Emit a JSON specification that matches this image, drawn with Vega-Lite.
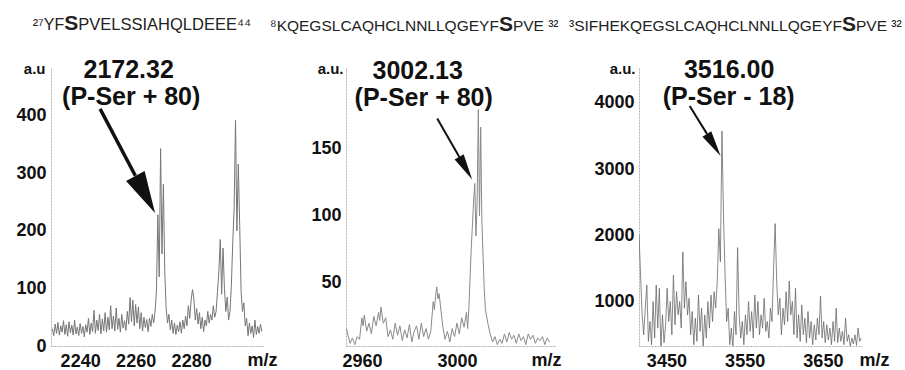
{
  "$schema": "https://vega.github.io/schema/vega-lite/v6.json",
  "background": "white",
  "padding": {"left": 15, "top": 13, "right": 0, "bottom": 0},
  "config": {
    "view": {"stroke": null},
    "font": "Liberation Sans",
    "axis": {
      "domainColor": "#b0b0b0",
      "domainDash": [2, 1],
      "ticks": false,
      "tickSize": 0,
      "grid": false,
      "format": "d",
      "labelFont": "Liberation Sans",
      "labelFontSize": 18,
      "labelFontWeight": "bold",
      "labelColor": "#111",
      "labelFlush": false,
      "titleFont": "Liberation Sans",
      "titleFontWeight": "bold",
      "titleColor": "#111"
    }
  },
  "datasets": {
    "p1": [
      {"mz":2230,"i":30},{"mz":2230.5,"i":18},{"mz":2231,"i":38},{"mz":2231.5,"i":22},{"mz":2232,"i":41},{"mz":2232.5,"i":19},{"mz":2233,"i":35},{"mz":2233.5,"i":24},{"mz":2234,"i":44},{"mz":2234.5,"i":20},
      {"mz":2235,"i":37},{"mz":2235.5,"i":17},{"mz":2236,"i":42},{"mz":2236.5,"i":23},{"mz":2237,"i":36},{"mz":2237.5,"i":19},{"mz":2238,"i":45},{"mz":2238.5,"i":21},{"mz":2239,"i":33},{"mz":2239.5,"i":18},
      {"mz":2240,"i":39},{"mz":2240.5,"i":22},{"mz":2241,"i":34},{"mz":2241.5,"i":16},{"mz":2242,"i":37},{"mz":2242.5,"i":24},{"mz":2243,"i":48},{"mz":2243.5,"i":20},{"mz":2244,"i":40},{"mz":2244.5,"i":25},
      {"mz":2245,"i":62},{"mz":2245.5,"i":22},{"mz":2246,"i":45},{"mz":2246.5,"i":27},{"mz":2247,"i":55},{"mz":2247.5,"i":21},{"mz":2248,"i":47},{"mz":2248.5,"i":26},{"mz":2249,"i":58},{"mz":2249.5,"i":24},
      {"mz":2250,"i":50},{"mz":2250.5,"i":28},{"mz":2251,"i":70},{"mz":2251.5,"i":30},{"mz":2252,"i":52},{"mz":2252.5,"i":26},{"mz":2253,"i":66},{"mz":2253.5,"i":29},{"mz":2254,"i":48},{"mz":2254.5,"i":24},
      {"mz":2255,"i":55},{"mz":2255.5,"i":31},{"mz":2256,"i":44},{"mz":2256.5,"i":27},{"mz":2257,"i":60},{"mz":2257.5,"i":38},{"mz":2258,"i":84},{"mz":2258.5,"i":42},{"mz":2259,"i":80},{"mz":2259.5,"i":35},
      {"mz":2260,"i":72},{"mz":2260.5,"i":40},{"mz":2261,"i":68},{"mz":2261.5,"i":30},{"mz":2262,"i":58},{"mz":2262.5,"i":26},{"mz":2263,"i":50},{"mz":2263.5,"i":32},{"mz":2264,"i":46},{"mz":2264.5,"i":25},
      {"mz":2265,"i":48},{"mz":2265.5,"i":34},{"mz":2266,"i":55},{"mz":2266.5,"i":40},{"mz":2267,"i":60},{"mz":2267.5,"i":95},{"mz":2268,"i":228},{"mz":2268.5,"i":120},{"mz":2269,"i":343},{"mz":2269.5,"i":160},
      {"mz":2270,"i":281},{"mz":2270.5,"i":130},{"mz":2271,"i":65},{"mz":2271.5,"i":40},{"mz":2272,"i":55},{"mz":2272.5,"i":28},{"mz":2273,"i":45},{"mz":2273.5,"i":22},{"mz":2274,"i":40},{"mz":2274.5,"i":20},
      {"mz":2275,"i":36},{"mz":2275.5,"i":25},{"mz":2276,"i":42},{"mz":2276.5,"i":22},{"mz":2277,"i":45},{"mz":2277.5,"i":30},{"mz":2278,"i":52},{"mz":2278.5,"i":35},{"mz":2279,"i":70},{"mz":2279.5,"i":48},
      {"mz":2280,"i":80},{"mz":2280.5,"i":98},{"mz":2281,"i":82},{"mz":2281.5,"i":45},{"mz":2282,"i":65},{"mz":2282.5,"i":38},{"mz":2283,"i":58},{"mz":2283.5,"i":30},{"mz":2284,"i":50},{"mz":2284.5,"i":25},
      {"mz":2285,"i":45},{"mz":2285.5,"i":35},{"mz":2286,"i":60},{"mz":2286.5,"i":40},{"mz":2287,"i":55},{"mz":2287.5,"i":45},{"mz":2288,"i":70},{"mz":2288.5,"i":50},{"mz":2289,"i":60},{"mz":2289.5,"i":95},
      {"mz":2290,"i":130},{"mz":2290.5,"i":185},{"mz":2291,"i":90},{"mz":2291.5,"i":170},{"mz":2292,"i":100},{"mz":2292.5,"i":60},{"mz":2293,"i":85},{"mz":2293.5,"i":45},{"mz":2294,"i":60},{"mz":2294.5,"i":105},
      {"mz":2295,"i":180},{"mz":2295.5,"i":240},{"mz":2296,"i":392},{"mz":2296.5,"i":200},{"mz":2297,"i":316},{"mz":2297.5,"i":210},{"mz":2298,"i":95},{"mz":2298.5,"i":60},{"mz":2299,"i":75},{"mz":2299.5,"i":35},
      {"mz":2300,"i":48},{"mz":2300.5,"i":18},{"mz":2301,"i":40},{"mz":2301.5,"i":22},{"mz":2302,"i":35},{"mz":2302.5,"i":15},{"mz":2303,"i":45},{"mz":2303.5,"i":20},{"mz":2304,"i":34},{"mz":2304.5,"i":22},
      {"mz":2305,"i":38},{"mz":2305.5,"i":25}
    ],
    "p2": [
      {"mz":2953.5,"i":16},{"mz":2954,"i":12},{"mz":2955,"i":5},{"mz":2956,"i":9},{"mz":2957,"i":4},{"mz":2958,"i":10},{"mz":2959,"i":8},{"mz":2960,"i":24},{"mz":2960.5,"i":18},{"mz":2961,"i":26},
      {"mz":2962,"i":14},{"mz":2963,"i":20},{"mz":2964,"i":12},{"mz":2965,"i":25},{"mz":2966,"i":18},{"mz":2967,"i":28},{"mz":2967.5,"i":22},{"mz":2968,"i":32},{"mz":2969,"i":20},{"mz":2970,"i":24},
      {"mz":2971,"i":10},{"mz":2972,"i":15},{"mz":2973,"i":8},{"mz":2974,"i":20},{"mz":2975,"i":11},{"mz":2976,"i":18},{"mz":2977,"i":7},{"mz":2978,"i":15},{"mz":2979,"i":9},{"mz":2980,"i":19},
      {"mz":2981,"i":6},{"mz":2982,"i":14},{"mz":2983,"i":18},{"mz":2984,"i":8},{"mz":2985,"i":20},{"mz":2986,"i":10},{"mz":2987,"i":16},{"mz":2988,"i":8},{"mz":2989,"i":14},{"mz":2990,"i":36},
      {"mz":2990.5,"i":30},{"mz":2991,"i":40},{"mz":2991.5,"i":47},{"mz":2992,"i":38},{"mz":2992.5,"i":42},{"mz":2993,"i":34},{"mz":2994,"i":18},{"mz":2995,"i":8},{"mz":2996,"i":14},{"mz":2997,"i":6},
      {"mz":2998,"i":16},{"mz":2999,"i":10},{"mz":3000,"i":20},{"mz":3001,"i":12},{"mz":3002,"i":24},{"mz":3003,"i":17},{"mz":3004,"i":28},{"mz":3004.5,"i":16},{"mz":3005,"i":30},{"mz":3006,"i":75},
      {"mz":3007,"i":110},{"mz":3007.5,"i":124},{"mz":3008,"i":85},{"mz":3008.5,"i":110},{"mz":3009,"i":179},{"mz":3009.5,"i":100},{"mz":3010,"i":166},{"mz":3010.5,"i":96},{"mz":3011,"i":70},{"mz":3011.5,"i":45},
      {"mz":3012,"i":30},{"mz":3013,"i":20},{"mz":3014,"i":12},{"mz":3015,"i":6},{"mz":3016,"i":10},{"mz":3017,"i":4},{"mz":3018,"i":8},{"mz":3019,"i":5},{"mz":3020,"i":12},{"mz":3021,"i":6},
      {"mz":3022,"i":13},{"mz":3023,"i":8},{"mz":3024,"i":11},{"mz":3025,"i":5},{"mz":3026,"i":12},{"mz":3027,"i":7},{"mz":3028,"i":10},{"mz":3029,"i":4},{"mz":3030,"i":12},{"mz":3031,"i":8},
      {"mz":3032,"i":11},{"mz":3033,"i":5},{"mz":3034,"i":9},{"mz":3035,"i":7},{"mz":3036,"i":10},{"mz":3037,"i":4},{"mz":3038,"i":9},{"mz":3039,"i":6}
    ],
    "p3": [
      {"mz":3415,"i":2020},{"mz":3417,"i":1400},{"mz":3419,"i":800},{"mz":3421,"i":500},{"mz":3423,"i":900},{"mz":3425,"i":1250},{"mz":3427,"i":400},{"mz":3429,"i":700},{"mz":3431,"i":350},{"mz":3433,"i":1000},
      {"mz":3435,"i":450},{"mz":3437,"i":1250},{"mz":3439,"i":600},{"mz":3441,"i":1200},{"mz":3443,"i":300},{"mz":3445,"i":800},{"mz":3447,"i":380},{"mz":3449,"i":650},{"mz":3451,"i":1200},{"mz":3453,"i":700},
      {"mz":3455,"i":1000},{"mz":3457,"i":500},{"mz":3459,"i":1400},{"mz":3461,"i":650},{"mz":3463,"i":1150},{"mz":3465,"i":800},{"mz":3467,"i":1000},{"mz":3469,"i":600},{"mz":3471,"i":1750},{"mz":3473,"i":900},
      {"mz":3475,"i":1300},{"mz":3477,"i":800},{"mz":3479,"i":1050},{"mz":3481,"i":500},{"mz":3483,"i":850},{"mz":3485,"i":350},{"mz":3487,"i":750},{"mz":3489,"i":400},{"mz":3491,"i":1100},{"mz":3493,"i":550},
      {"mz":3495,"i":900},{"mz":3497,"i":300},{"mz":3499,"i":800},{"mz":3501,"i":450},{"mz":3503,"i":1000},{"mz":3505,"i":600},{"mz":3507,"i":1100},{"mz":3509,"i":700},{"mz":3511,"i":1150},{"mz":3513,"i":900},
      {"mz":3515,"i":1300},{"mz":3517,"i":2100},{"mz":3519,"i":1600},{"mz":3521,"i":3575},{"mz":3523,"i":2300},{"mz":3525,"i":1400},{"mz":3527,"i":700},{"mz":3529,"i":900},{"mz":3531,"i":350},{"mz":3533,"i":600},
      {"mz":3535,"i":300},{"mz":3537,"i":850},{"mz":3539,"i":500},{"mz":3541,"i":1815},{"mz":3543,"i":800},{"mz":3545,"i":450},{"mz":3547,"i":700},{"mz":3549,"i":350},{"mz":3551,"i":800},{"mz":3553,"i":500},
      {"mz":3555,"i":1000},{"mz":3557,"i":550},{"mz":3559,"i":850},{"mz":3561,"i":450},{"mz":3563,"i":1100},{"mz":3565,"i":600},{"mz":3567,"i":1000},{"mz":3569,"i":500},{"mz":3571,"i":800},{"mz":3573,"i":600},
      {"mz":3575,"i":1050},{"mz":3577,"i":550},{"mz":3579,"i":700},{"mz":3581,"i":450},{"mz":3583,"i":900},{"mz":3585,"i":700},{"mz":3587,"i":1500},{"mz":3589,"i":2177},{"mz":3591,"i":1300},{"mz":3593,"i":800},
      {"mz":3595,"i":1050},{"mz":3597,"i":500},{"mz":3599,"i":900},{"mz":3601,"i":650},{"mz":3603,"i":1150},{"mz":3605,"i":700},{"mz":3607,"i":1310},{"mz":3609,"i":800},{"mz":3611,"i":1000},{"mz":3613,"i":500},
      {"mz":3615,"i":1200},{"mz":3617,"i":450},{"mz":3619,"i":800},{"mz":3621,"i":400},{"mz":3623,"i":950},{"mz":3625,"i":500},{"mz":3627,"i":750},{"mz":3629,"i":380},{"mz":3631,"i":850},{"mz":3633,"i":450},
      {"mz":3635,"i":700},{"mz":3637,"i":350},{"mz":3639,"i":650},{"mz":3641,"i":420},{"mz":3643,"i":750},{"mz":3645,"i":500},{"mz":3647,"i":1085},{"mz":3649,"i":450},{"mz":3651,"i":700},{"mz":3653,"i":380},
      {"mz":3655,"i":650},{"mz":3657,"i":420},{"mz":3659,"i":600},{"mz":3661,"i":350},{"mz":3663,"i":700},{"mz":3665,"i":400},{"mz":3667,"i":900},{"mz":3669,"i":380},{"mz":3671,"i":600},{"mz":3673,"i":400},
      {"mz":3675,"i":550},{"mz":3677,"i":350},{"mz":3679,"i":750},{"mz":3681,"i":400},{"mz":3683,"i":500},{"mz":3685,"i":320},{"mz":3687,"i":450},{"mz":3689,"i":360},{"mz":3691,"i":500},{"mz":3693,"i":340},
      {"mz":3695,"i":600},{"mz":3697,"i":400},{"mz":3699,"i":450}
    ],
    "ann": [
      {"panel":1,"kind":"pre","text":"²⁷YF","mz":2236.8,"i":549},
      {"panel":1,"kind":"S","text":"S","mz":2236.8,"i":549},
      {"panel":1,"kind":"post","text":"PVELSSIAHQLDEEE⁴⁴","mz":2236.8,"i":549},
      {"panel":1,"kind":"note","text":"2172.32","mz":2257.5,"i":466},
      {"panel":1,"kind":"note","text":"(P-Ser + 80)","mz":2258.4,"i":418.7},
      {"panel":1,"kind":"shaft","mz":2247.2,"i":412,"mz2":2259.9,"i2":295.8},
      {"panel":1,"kind":"head","mz":2267.0,"i":231},
      {"panel":2,"kind":"pre","text":"⁸KQEGSLCAQHCLNNLLQGEYF","mz":3020.6,"i":237.4},
      {"panel":2,"kind":"S","text":"S","mz":3020.6,"i":237.4},
      {"panel":2,"kind":"post","text":"PVE ³²","mz":3020.6,"i":237.4},
      {"panel":2,"kind":"note","text":"3002.13","mz":2983.5,"i":202},
      {"panel":2,"kind":"note","text":"(P-Ser + 80)","mz":2986.0,"i":182},
      {"panel":2,"kind":"shaft","mz":2991.7,"i":172.4,"mz2":3001.0,"i2":143.8},
      {"panel":2,"kind":"head","mz":3006.4,"i":127},
      {"panel":3,"kind":"pre","text":"³SIFHEKQEGSLCAQHCLNNLLQGEYF","mz":3683.4,"i":5090},
      {"panel":3,"kind":"S","text":"S","mz":3683.4,"i":5090},
      {"panel":3,"kind":"post","text":"PVE ³²","mz":3683.4,"i":5090},
      {"panel":3,"kind":"note","text":"3516.00","mz":3530.2,"i":4374},
      {"panel":3,"kind":"note","text":"(P-Ser - 18)","mz":3529.6,"i":3967},
      {"panel":3,"kind":"shaft","mz":3479.8,"i":3952,"mz2":3501.9,"i2":3531},
      {"panel":3,"kind":"head","mz":3519.3,"i":3198}
    ]
  },
  "bounds": "flush",
  "spacing": 83,
  "hconcat": [
    {
      "width": 212,
      "height": 278,
      "layer": [
        {
          "data": {"name": "p1"},
          "mark": {"type": "line", "clip": true, "stroke": "#767676", "strokeWidth": 1},
          "encoding": {
            "x": {"field": "mz", "type": "quantitative", "scale": {"domain": [2229.5, 2305.9], "nice": false, "zero": false},
                  "axis": {"values": [2240, 2260, 2280], "title": "m/z", "titleX": 211, "titleY": 14, "titleAlign": "center", "titleBaseline": "middle", "titleFontSize": 18, "labelPadding": 6}},
            "y": {"field": "i", "type": "quantitative", "scale": {"domain": [0, 483], "nice": false, "zero": false},
                  "axis": {"values": [0, 100, 200, 300, 400], "title": "a.u", "titleAngle": 0, "titleAlign": "right", "titleBaseline": "middle", "titleX": -6, "titleY": 0, "titleFontSize": 15, "labelPadding": 5}}
          }
        },
        {
          "data": {"name": "ann"},
          "transform": [{"filter": "datum.panel == 1 && datum.kind == 'pre'"}],
          "mark": {"type": "text", "align": "right", "dx": -7, "baseline": "alphabetic", "fontSize": 16, "color": "#222"},
          "encoding": {"x": {"field": "mz", "type": "quantitative"}, "y": {"field": "i", "type": "quantitative"}, "text": {"field": "text"}}
        },
        {
          "data": {"name": "ann"},
          "transform": [{"filter": "datum.panel == 1 && datum.kind == 'S'"}],
          "mark": {"type": "text", "align": "center", "baseline": "alphabetic", "fontSize": 21, "fontWeight": "bold", "color": "#222"},
          "encoding": {"x": {"field": "mz", "type": "quantitative"}, "y": {"field": "i", "type": "quantitative"}, "text": {"field": "text"}}
        },
        {
          "data": {"name": "ann"},
          "transform": [{"filter": "datum.panel == 1 && datum.kind == 'post'"}],
          "mark": {"type": "text", "align": "left", "dx": 7, "baseline": "alphabetic", "fontSize": 16.5, "color": "#222"},
          "encoding": {"x": {"field": "mz", "type": "quantitative"}, "y": {"field": "i", "type": "quantitative"}, "text": {"field": "text"}}
        },
        {
          "data": {"name": "ann"},
          "transform": [{"filter": "datum.panel == 1 && datum.kind == 'note'"}],
          "mark": {"type": "text", "align": "center", "baseline": "alphabetic", "fontSize": 25, "fontWeight": "bold", "color": "#111"},
          "encoding": {"x": {"field": "mz", "type": "quantitative"}, "y": {"field": "i", "type": "quantitative"}, "text": {"field": "text"}}
        },
        {
          "data": {"name": "ann"},
          "transform": [{"filter": "datum.panel == 1 && datum.kind == 'shaft'"}],
          "mark": {"type": "rule", "color": "#111", "strokeWidth": 3.5, "strokeCap": "butt"},
          "encoding": {"x": {"field": "mz", "type": "quantitative"}, "y": {"field": "i", "type": "quantitative"}, "x2": {"field": "mz2"}, "y2": {"field": "i2"}}
        },
        {
          "data": {"name": "ann"},
          "transform": [{"filter": "datum.panel == 1 && datum.kind == 'head'"}],
          "mark": {"type": "point", "shape": "M0,0L-0.25,-1L0.25,-1Z", "filled": true, "opacity": 1, "color": "#111", "size": 7056, "angle": 332, "strokeWidth": 0},
          "encoding": {"x": {"field": "mz", "type": "quantitative"}, "y": {"field": "i", "type": "quantitative"}}
        }
      ]
    },
    {
      "width": 210,
      "height": 278,
      "layer": [
        {
          "data": {"name": "p2"},
          "mark": {"type": "line", "clip": true, "stroke": "#8a8a8a", "strokeWidth": 1},
          "encoding": {
            "x": {"field": "mz", "type": "quantitative", "scale": {"domain": [2953.3, 3041.7], "nice": false, "zero": false},
                  "axis": {"values": [2960, 3000], "title": "m/z", "titleX": 200, "titleY": 14, "titleAlign": "center", "titleBaseline": "middle", "titleFontSize": 18, "labelPadding": 6}},
            "y": {"field": "i", "type": "quantitative", "scale": {"domain": [3, 210], "nice": false, "zero": false},
                  "axis": {"values": [50, 100, 150], "title": "a.u.", "titleAngle": 0, "titleAlign": "right", "titleBaseline": "middle", "titleX": -3, "titleY": 0, "titleFontSize": 15, "labelPadding": 5}}
          }
        },
        {
          "data": {"name": "ann"},
          "transform": [{"filter": "datum.panel == 2 && datum.kind == 'pre'"}],
          "mark": {"type": "text", "align": "right", "dx": -7, "baseline": "alphabetic", "fontSize": 15.5, "color": "#222"},
          "encoding": {"x": {"field": "mz", "type": "quantitative"}, "y": {"field": "i", "type": "quantitative"}, "text": {"field": "text"}}
        },
        {
          "data": {"name": "ann"},
          "transform": [{"filter": "datum.panel == 2 && datum.kind == 'S'"}],
          "mark": {"type": "text", "align": "center", "baseline": "alphabetic", "fontSize": 21, "fontWeight": "bold", "color": "#222"},
          "encoding": {"x": {"field": "mz", "type": "quantitative"}, "y": {"field": "i", "type": "quantitative"}, "text": {"field": "text"}}
        },
        {
          "data": {"name": "ann"},
          "transform": [{"filter": "datum.panel == 2 && datum.kind == 'post'"}],
          "mark": {"type": "text", "align": "left", "dx": 7, "baseline": "alphabetic", "fontSize": 15.5, "color": "#222"},
          "encoding": {"x": {"field": "mz", "type": "quantitative"}, "y": {"field": "i", "type": "quantitative"}, "text": {"field": "text"}}
        },
        {
          "data": {"name": "ann"},
          "transform": [{"filter": "datum.panel == 2 && datum.kind == 'note'"}],
          "mark": {"type": "text", "align": "center", "baseline": "alphabetic", "fontSize": 25, "fontWeight": "bold", "color": "#111"},
          "encoding": {"x": {"field": "mz", "type": "quantitative"}, "y": {"field": "i", "type": "quantitative"}, "text": {"field": "text"}}
        },
        {
          "data": {"name": "ann"},
          "transform": [{"filter": "datum.panel == 2 && datum.kind == 'shaft'"}],
          "mark": {"type": "rule", "color": "#111", "strokeWidth": 2, "strokeCap": "butt"},
          "encoding": {"x": {"field": "mz", "type": "quantitative"}, "y": {"field": "i", "type": "quantitative"}, "x2": {"field": "mz2"}, "y2": {"field": "i2"}}
        },
        {
          "data": {"name": "ann"},
          "transform": [{"filter": "datum.panel == 2 && datum.kind == 'head'"}],
          "mark": {"type": "point", "shape": "M0,0L-0.2,-1L0.2,-1Z", "filled": true, "opacity": 1, "color": "#111", "size": 2704, "angle": 330, "strokeWidth": 0},
          "encoding": {"x": {"field": "mz", "type": "quantitative"}, "y": {"field": "i", "type": "quantitative"}}
        }
      ]
    },
    {
      "width": 223,
      "height": 278,
      "layer": [
        {
          "data": {"name": "p3"},
          "mark": {"type": "line", "clip": true, "stroke": "#6a6a6a", "strokeWidth": 0.8},
          "encoding": {
            "x": {"field": "mz", "type": "quantitative", "scale": {"domain": [3415, 3700], "nice": false, "zero": false},
                  "axis": {"values": [3450, 3550, 3650], "title": "m/z", "titleX": 235, "titleY": 14, "titleAlign": "center", "titleBaseline": "middle", "titleFontSize": 18, "labelPadding": 6}},
            "y": {"field": "i", "type": "quantitative", "scale": {"domain": [330, 4525], "nice": false, "zero": false},
                  "axis": {"values": [1000, 2000, 3000, 4000], "title": "a.u.", "titleAngle": 0, "titleAlign": "right", "titleBaseline": "middle", "titleX": -4, "titleY": 0, "titleFontSize": 15, "labelPadding": 5}}
          }
        },
        {
          "data": {"name": "ann"},
          "transform": [{"filter": "datum.panel == 3 && datum.kind == 'pre'"}],
          "mark": {"type": "text", "align": "right", "dx": -7, "baseline": "alphabetic", "fontSize": 15.5, "color": "#222"},
          "encoding": {"x": {"field": "mz", "type": "quantitative"}, "y": {"field": "i", "type": "quantitative"}, "text": {"field": "text"}}
        },
        {
          "data": {"name": "ann"},
          "transform": [{"filter": "datum.panel == 3 && datum.kind == 'S'"}],
          "mark": {"type": "text", "align": "center", "baseline": "alphabetic", "fontSize": 21, "fontWeight": "bold", "color": "#222"},
          "encoding": {"x": {"field": "mz", "type": "quantitative"}, "y": {"field": "i", "type": "quantitative"}, "text": {"field": "text"}}
        },
        {
          "data": {"name": "ann"},
          "transform": [{"filter": "datum.panel == 3 && datum.kind == 'post'"}],
          "mark": {"type": "text", "align": "left", "dx": 7, "baseline": "alphabetic", "fontSize": 15.5, "color": "#222"},
          "encoding": {"x": {"field": "mz", "type": "quantitative"}, "y": {"field": "i", "type": "quantitative"}, "text": {"field": "text"}}
        },
        {
          "data": {"name": "ann"},
          "transform": [{"filter": "datum.panel == 3 && datum.kind == 'note'"}],
          "mark": {"type": "text", "align": "center", "baseline": "alphabetic", "fontSize": 25, "fontWeight": "bold", "color": "#111"},
          "encoding": {"x": {"field": "mz", "type": "quantitative"}, "y": {"field": "i", "type": "quantitative"}, "text": {"field": "text"}}
        },
        {
          "data": {"name": "ann"},
          "transform": [{"filter": "datum.panel == 3 && datum.kind == 'shaft'"}],
          "mark": {"type": "rule", "color": "#111", "strokeWidth": 2, "strokeCap": "butt"},
          "encoding": {"x": {"field": "mz", "type": "quantitative"}, "y": {"field": "i", "type": "quantitative"}, "x2": {"field": "mz2"}, "y2": {"field": "i2"}}
        },
        {
          "data": {"name": "ann"},
          "transform": [{"filter": "datum.panel == 3 && datum.kind == 'head'"}],
          "mark": {"type": "point", "shape": "M0,0L-0.2,-1L0.2,-1Z", "filled": true, "opacity": 1, "color": "#111", "size": 2704, "angle": 328, "strokeWidth": 0},
          "encoding": {"x": {"field": "mz", "type": "quantitative"}, "y": {"field": "i", "type": "quantitative"}}
        }
      ]
    }
  ]
}
